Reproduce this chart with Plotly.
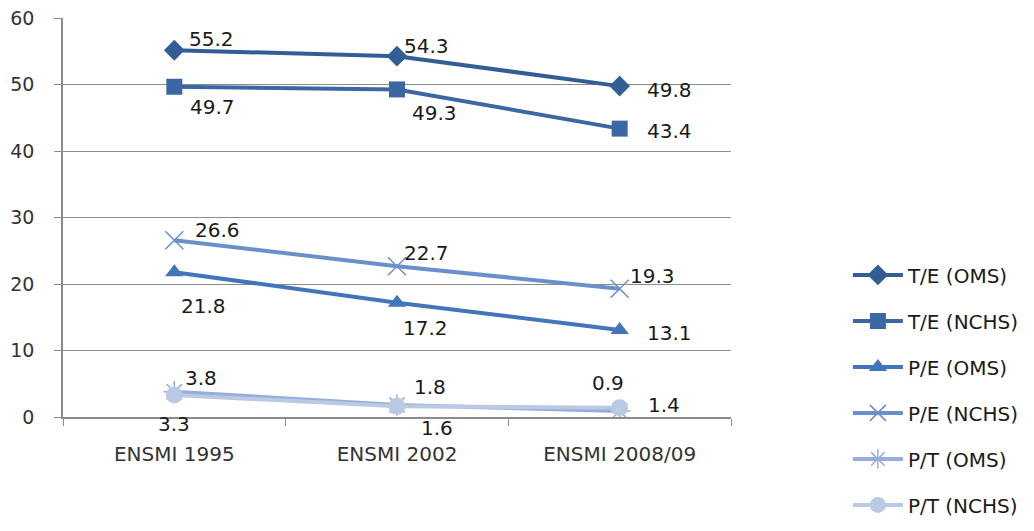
import plotly.graph_objects as go

categories = ["ENSMI 1995", "ENSMI 2002", "ENSMI 2008/09"]

series_names = ["T/E (OMS)", "T/E (NCHS)", "P/E (OMS)", "P/E (NCHS)", "P/T (OMS)", "P/T (NCHS)"]
te_oms = [55.2, 54.3, 49.8]
te_nchs = [49.7, 49.3, 43.4]
pe_oms = [21.8, 17.2, 13.1]
pe_nchs = [26.6, 22.7, 19.3]
pt_oms = [3.8, 1.8, 0.9]
pt_nchs = [3.3, 1.6, 1.4]

y_ticks = [0, 10, 20, 30, 40, 50, 60]

colors = ["#335E95", "#3B68A4", "#4375BA", "#6A90CC", "#98AEDA", "#BACAE4"]
symbols = ["diamond", "square", "triangle-up", "x-thin-open", "asterisk-open", "circle"]
sizes = [16, 16, 16, 18, 18, 17]

# label offsets (pixels) for each value label: (xshift, yshift)
label_offsets = [
    [(37, 11), (29, 10), (50, -4)],
    [(38, -20), (37, -24), (50, -2)],
    [(29, -34), (28, -25), (50, -3)],
    [(43, 10), (29, 13), (33, 13)],
    [(27, 14), (33, 18), (-12, 28)],
    [(0, -29), (40, -22), (44, 3)],
]

all_values = [te_oms, te_nchs, pe_oms, pe_nchs, pt_oms, pt_nchs]

FONT = "DejaVu Sans"
TEXT = "#1a1a1a"

fig = go.Figure()
annotations = []
for i, (name, vals) in enumerate(zip(series_names, all_values)):
    open_marker = symbols[i].endswith("open")
    fig.add_trace(go.Scatter(
        x=categories, y=vals, name=name, mode="lines+markers",
        legendgroup=name,
        line=dict(color=colors[i], width=4),
        marker=dict(symbol=symbols[i], size=sizes[i], color=colors[i],
                    line=dict(color=colors[i], width=1.5 if open_marker else 0)),
    ))
    for j, v in enumerate(vals):
        dx, dy = label_offsets[i][j]
        annotations.append(dict(
            x=categories[j], y=v, text=f"{v:.1f}", showarrow=False,
            xshift=dx, yshift=dy, font=dict(family=FONT, size=20, color=TEXT),
        ))

fig.update_layout(
    width=1034, height=531,
    margin=dict(l=63, r=303, t=18, b=114, autoexpand=False),
    paper_bgcolor="white", plot_bgcolor="white",
    font=dict(family=FONT, size=19, color=TEXT),
    annotations=annotations,
    legend=dict(x=1.175, xanchor="left", y=0.405, yanchor="top",
                font=dict(family=FONT, size=20, color=TEXT),
                tracegroupgap=17, itemwidth=50),
    xaxis=dict(
        type="category", tickson="boundaries", ticks="outside", ticklen=7,
        range=[-0.5, 2.5],
        tickcolor="#8c8c8c", showline=True, linecolor="#8c8c8c", linewidth=1.5,
        showgrid=False, ticklabelstandoff=18,
        tickfont=dict(family=FONT, size=20, color="#333333"),
    ),
    yaxis=dict(
        range=[0, 60.05], tickvals=y_ticks, ticks="outside", ticklen=7,
        tickcolor="#8c8c8c", showline=True, linecolor="#8c8c8c", linewidth=1.5,
        showgrid=True, gridcolor="#8c8c8c", gridwidth=1.3, zeroline=False,
        ticklabelstandoff=16,
        tickfont=dict(family=FONT, size=19, color="#333333"),
    ),
)

fig.write_html("out.html")
